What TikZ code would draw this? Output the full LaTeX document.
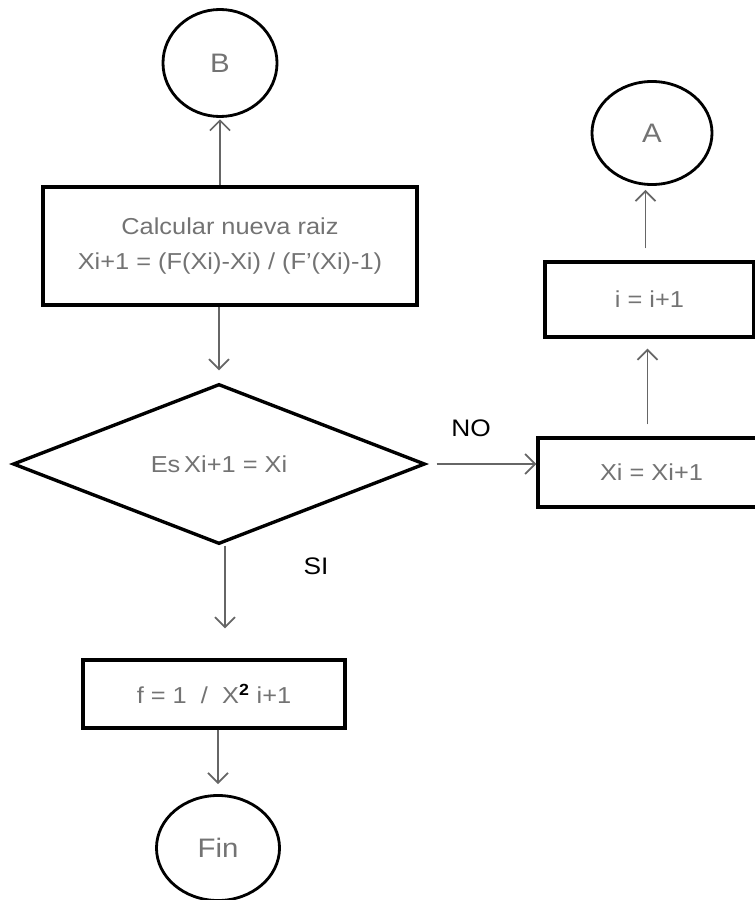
\documentclass[tikz,border=0pt]{standalone}
\usepackage{fontspec}
\setmainfont{Liberation Sans}[FakeStretch=1.1]
\usetikzlibrary{shapes.geometric, arrows.meta, positioning}
\tikzset{
  procbox/.style={rectangle, draw=black, line width=2.4pt, text=black!55,
                  align=center, font=\fontsize{16.4}{25}\selectfont},
  decision/.style={diamond, draw=black, line width=2.4pt, text=black!55,
                   inner sep=0pt, aspect=2.575, font=\fontsize{16.4}{25}\selectfont},
  terminal/.style={ellipse, draw=black, line width=2pt, text=black!55,
                   font=\fontsize{19}{22}\selectfont},
  arrow/.style={-{Straight Barb[length=2.5mm,width=5mm]}, line width=1.2pt, draw=black!60},
  flowlabel/.style={text=black, font=\fontsize{17}{20}\selectfont},
}

\begin{document}
\begin{tikzpicture}[x=0.025cm, y=-0.025cm]
  \useasboundingbox (0,0) rectangle (755,900);

  % main column
  \node[terminal, minimum width=2.85cm, minimum height=2.675cm] (B) at (220,63) {B};
  \node[procbox, minimum width=9.35cm, minimum height=2.95cm] (calc) at (230,246)
    {Calcular nueva raiz\\Xi+1 = (F(Xi)-Xi) / (F’(Xi)-1)};
  \node[decision, minimum width=10.3cm, minimum height=4cm] (test) at (219,464) {Es\,Xi+1 = Xi};
  \node[procbox, minimum width=6.55cm, minimum height=1.7cm] (res) at (214,694)
    {f = 1~~/~~X\textsuperscript{\textbf{\color{black}2}} i+1};
  \node[terminal, minimum width=3.075cm, minimum height=2.625cm] (fin) at (218,848) {Fin};

  % right column
  \node[procbox, minimum width=5.675cm, minimum height=1.725cm] (upd) at (651.5,472.5) {Xi = Xi+1};
  \node[procbox, minimum width=5.225cm, minimum height=1.875cm] (inc) at (649.5,299.5) {i = i+1};
  \node[terminal, minimum width=3cm, minimum height=2.575cm] (A) at (652,133) {A};

  % connectors
  \draw[arrow, shorten >=1pt] (B.south |- calc.north) -- (B.south);
  \draw[arrow, shorten >=0.3cm] (test.north |- calc.south) -- (test.north);
  \draw[arrow, shorten >=0.75cm] ([xshift=0.15cm]test.south) -- ([xshift=0.15cm]test.south |- res.north);
  \draw[arrow, shorten >=0.25cm] (fin.north |- res.south) -- (fin.north);
  \draw[arrow, shorten <=0.25cm] (test.east) -- (test.east -| upd.west);
  \draw[arrow, shorten <=0.3cm, shorten >=0.25cm] ([xshift=-0.1cm]upd.north) -- ([xshift=-0.1cm]upd.north |- inc.south);
  \draw[arrow, shorten <=0.3cm, shorten >=0.1cm] ([xshift=-0.1cm]inc.north) -- ([xshift=-0.1cm]inc.north |- A.south);

  % branch labels
  \node[flowlabel] (no) at (471,428) {NO};
  \node[flowlabel] (si) at (316,566) {SI};
\end{tikzpicture}
\end{document}
